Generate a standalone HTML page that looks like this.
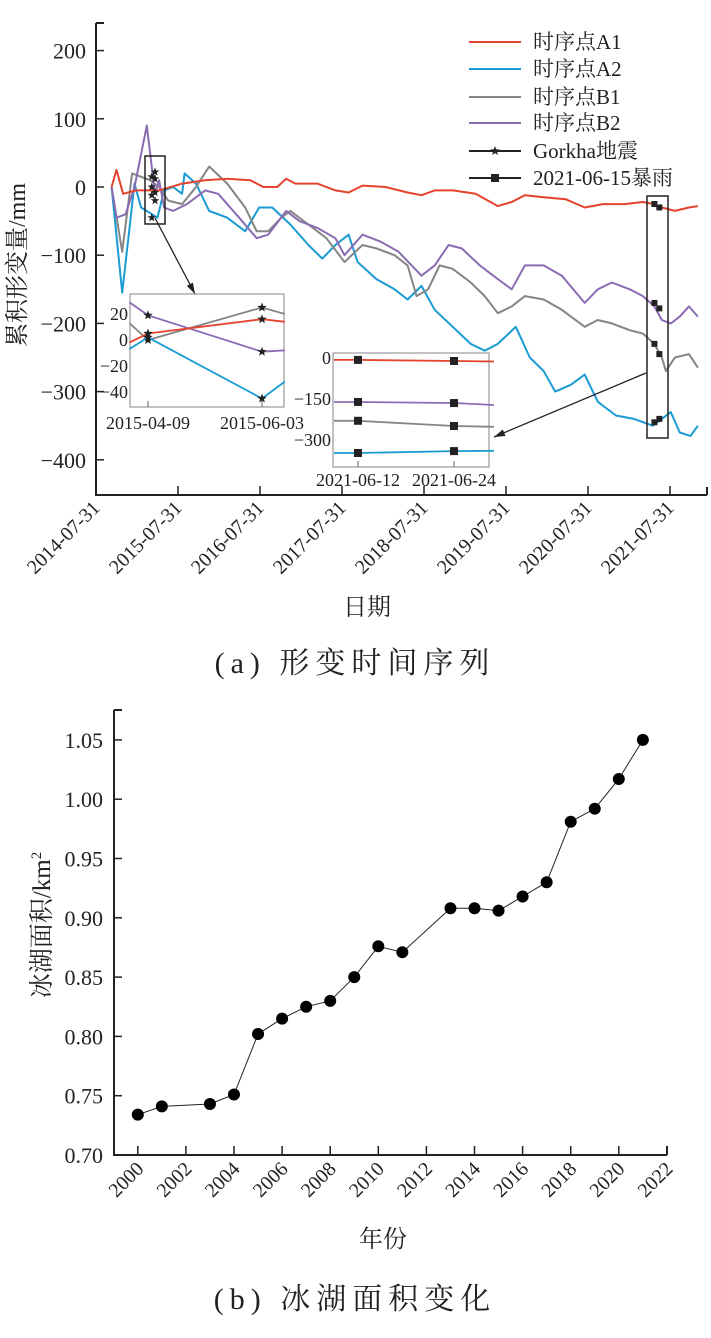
<!DOCTYPE html>
<html><head><meta charset="utf-8"><style>
html,body{margin:0;padding:0;background:#fff;}
svg{display:block;}
text{font-family:"Liberation Serif","Noto Serif CJK SC",serif;fill:#222;}
.cjk{font-family:"Liberation Serif","Noto Serif CJK SC",serif;}
</style></head><body>
<svg id="fig" width="711" height="1338" viewBox="0 0 711 1338" xmlns="http://www.w3.org/2000/svg">
<g id="topchart"></g>
<g id="botchart"></g>
<text x="355" y="673" font-size="30" letter-spacing="6" text-anchor="middle" class="cjk">(a) 形变时间序列</text>
<text x="355" y="1309" font-size="30" letter-spacing="6" text-anchor="middle" class="cjk">(b) 冰湖面积变化</text>
</svg>
<script>
// ---------- Top chart data ----------
const xTickLabels = ["2014-07-31","2015-07-31","2016-07-31","2017-07-31","2018-07-31","2019-07-31","2020-07-31","2021-07-31"];
const xTickYears = [2014.58,2015.58,2016.58,2017.58,2018.58,2019.58,2020.58,2021.58];
const yTicks = [200,100,0,-100,-200,-300,-400];
const a1Years = [2014.77,2014.83,2014.91,2015.07,2015.35,2015.63,2015.91,2016.18,2016.46,2016.62,2016.79,2016.90,2017.01,2017.28,2017.50,2017.66,2017.83,2018.11,2018.38,2018.55,2018.71,2018.93,2019.21,2019.48,2019.65,2019.81,2020.04,2020.31,2020.54,2020.76,2021.03,2021.25,2021.39,2021.48,2021.64,2021.81,2021.92];
const a1Vals = [0,25,-10,-5,-5,5,10,12,10,0,0,12,5,5,-5,-8,2,0,-8,-12,-5,-5,-10,-28,-22,-12,-15,-18,-30,-25,-25,-22,-25,-30,-35,-30,-28];
const a2Years = [2014.77,2014.90,2015.05,2015.13,2015.33,2015.41,2015.52,2015.63,2015.66,2015.80,2015.96,2016.18,2016.40,2016.57,2016.73,2016.95,2017.17,2017.34,2017.50,2017.66,2017.77,2018.00,2018.22,2018.38,2018.55,2018.71,2018.93,2019.15,2019.32,2019.48,2019.70,2019.87,2020.04,2020.18,2020.37,2020.54,2020.70,2020.92,2021.14,2021.37,2021.48,2021.59,2021.70,2021.83,2021.92];
const a2Vals = [0,-155,5,-30,-45,-5,0,-10,20,5,-35,-45,-65,-30,-30,-55,-85,-105,-85,-70,-110,-135,-150,-165,-145,-180,-205,-230,-240,-230,-205,-250,-270,-300,-290,-275,-315,-335,-340,-350,-340,-330,-360,-365,-350];
const b1Years = [2014.77,2014.90,2015.02,2015.13,2015.24,2015.35,2015.46,2015.63,2015.80,2015.96,2016.18,2016.40,2016.54,2016.68,2016.84,2016.95,2017.17,2017.39,2017.61,2017.83,2018.00,2018.22,2018.38,2018.49,2018.63,2018.77,2018.93,2019.15,2019.32,2019.48,2019.65,2019.81,2020.04,2020.26,2020.54,2020.70,2020.87,2021.09,2021.25,2021.39,2021.48,2021.53,2021.64,2021.81,2021.92];
const b1Vals = [0,-95,20,15,10,0,-20,-25,0,30,5,-30,-65,-65,-45,-35,-55,-75,-110,-85,-90,-100,-115,-160,-150,-115,-120,-140,-160,-185,-175,-160,-165,-180,-205,-195,-200,-210,-215,-230,-250,-270,-250,-245,-265];
const b2Years = [2014.77,2014.83,2014.94,2015.05,2015.20,2015.30,2015.35,2015.41,2015.52,2015.69,2015.91,2016.07,2016.29,2016.54,2016.68,2016.90,2017.06,2017.28,2017.50,2017.61,2017.83,2018.05,2018.27,2018.55,2018.71,2018.88,2019.04,2019.26,2019.48,2019.65,2019.81,2020.04,2020.26,2020.54,2020.70,2020.87,2021.09,2021.25,2021.39,2021.48,2021.59,2021.70,2021.81,2021.92];
const b2Vals = [0,-45,-40,0,90,-10,10,-30,-35,-25,-5,-10,-40,-75,-70,-35,-50,-60,-75,-100,-70,-80,-95,-130,-115,-85,-90,-115,-135,-150,-115,-115,-130,-170,-150,-140,-150,-160,-175,-195,-200,-190,-175,-190];
const quakeYears = [2015.26,2015.30];
const quakeVals = [[15,-12,0,-45],[22,-8,12,-20]];
const rainYears = [2021.39,2021.45];
const rainVals = [[-25,-30],[-170,-178],[-230,-245],[-345,-340]];
// inset 1 (Gorkha)
const in1Days = [-9,0,55,66];
const in1Labels = ["2015-04-09","2015-06-03"];
const in1TickDays = [0,55];
const in1Ticks = [20,0,-20,-40];
const in1A1 = [-2,5,16,14];
const in1A2 = [-7,2,-45,-32];
const in1B1 = [13,0,25,20];
const in1B2 = [29,19,-9,-8];
// inset 2 (rain)
const in2Days = [9,12,24,29];
const in2Labels = ["2021-06-12","2021-06-24"];
const in2TickDays = [12,24];
const in2Ticks = [0,-150,-300];
const in2A1 = [-7,-7,-11,-13];
const in2B2 = [-161,-161,-165,-172];
const in2B1 = [-230,-230,-249,-252];
const in2A2 = [-348,-348,-341,-340];
// ---------- Bottom chart data ----------
const lakeYears = [2000,2001,2003,2004,2005,2006,2007,2008,2009,2010,2011,2013,2014,2015,2016,2017,2018,2019,2020,2021];
const lakeArea = [0.734,0.741,0.743,0.751,0.802,0.815,0.825,0.830,0.850,0.876,0.871,0.908,0.908,0.906,0.918,0.930,0.981,0.992,1.017,1.050];
const lakeYTicks = [0.70,0.75,0.80,0.85,0.90,0.95,1.00,1.05];
const lakeXTicks = [2000,2002,2004,2006,2008,2010,2012,2014,2016,2018,2020,2022];

const NS="http://www.w3.org/2000/svg";
function mk(parent,tag,attrs){const e=document.createElementNS(NS,tag);for(const k in attrs)e.setAttribute(k,attrs[k]);parent.appendChild(e);return e;}
const C={a1:"#e5432e",a2:"#1a9bd3",b1:"#858585",b2:"#8b6cb3"};
const topG=document.getElementById('topchart');
const X=y=>96+(y-2014.58)*82;
const Y=v=>187-v*0.682;
function pathD(xs,vs,fx,fy){return xs.map((x,i)=>(i?'L':'M')+fx(x).toFixed(1)+' '+fy(vs[i]).toFixed(1)).join(' ');}
function star(g,cx,cy,r){let p=[];for(let i=0;i<10;i++){const a=-Math.PI/2+i*Math.PI/5;const rr=i%2?r*0.42:r;p.push((cx+rr*Math.cos(a)).toFixed(1)+','+(cy+rr*Math.sin(a)).toFixed(1));}return mk(g,'polygon',{points:p.join(' '),fill:'#222'});}

let ax=mk(topG,'path',{d:'M96 23 L96 495 L707 495 M96 23 L104 23 M707 495 L707 487',stroke:'#222','stroke-width':2,fill:'none'});


yTicks.forEach(v=>{
  const t=mk(topG,'line',{x1:96,x2:104,y1:Y(v),y2:Y(v),stroke:'#222','stroke-width':1.5});
  
  
  const l=mk(topG,'text',{x:86,y:Y(v)+8,'font-size':22,'text-anchor':'end'});l.textContent=(v<0?'\u2212'+(-v):v);
  
  
});
xTickYears.forEach((yr,i)=>{
  const x=X(yr);
  if(i>0){const t=mk(topG,'line',{x1:x,x2:x,y1:495,y2:486,stroke:'#222','stroke-width':1.5});
  
  }
  const l=mk(topG,'text',{x:x+5,y:509,'font-size':20,'text-anchor':'end',transform:`rotate(-45 ${x+5} 509)`});l.textContent=xTickLabels[i];
  
  
});
let yt=mk(topG,'text',{x:0,y:0,'font-size':24,'text-anchor':'middle',transform:'translate(25 265) rotate(-90)',class:'cjk'});yt.textContent='累积形变量/mm';


let xt=mk(topG,'text',{x:367,y:615,'font-size':24,'text-anchor':'middle',class:'cjk'});xt.textContent='日期';



[['a2',a2Years,a2Vals],['b1',b1Years,b1Vals],['b2',b2Years,b2Vals],['a1',a1Years,a1Vals]].forEach(([k,xs,vs])=>{
  const p=mk(topG,'path',{d:pathD(xs,vs,X,Y),stroke:C[k],'stroke-width':2,fill:'none','stroke-linejoin':'round'});
  
  
});
quakeYears.forEach((yr,i)=>quakeVals[i].forEach(v=>{
  const s=star(topG,X(yr),Y(v),4.5);
  
  
}));
rainVals.forEach(vs=>vs.forEach((v,i)=>{
  const r=mk(topG,'rect',{x:X(rainYears[i])-3,y:Y(v)-3,width:6,height:6,fill:'#222'});
  
  
}));
let bx1=mk(topG,'rect',{x:145,y:156,width:20,height:68,fill:'none',stroke:'#222','stroke-width':1.5});


let bx2=mk(topG,'rect',{x:647,y:196,width:21,height:242,fill:'none',stroke:'#222','stroke-width':1.5});


function arrow(x1,y1,x2,y2,name){
  const g=mk(topG,'g',{});
  
  
  mk(g,'line',{x1,y1,x2,y2,stroke:'#222','stroke-width':1.3});
  const a=Math.atan2(y2-y1,x2-x1),L=11,w=3.5;
  const bx=x2-L*Math.cos(a),by=y2-L*Math.sin(a);
  mk(g,'polygon',{points:`${x2},${y2} ${bx+w*Math.sin(a)},${by-w*Math.cos(a)} ${bx-w*Math.sin(a)},${by+w*Math.cos(a)}`,fill:'#222'});
}
arrow(155,218,195,294,'quake-arrow');
arrow(646,373,494,437,'rain-arrow');

const legNames=['时序点A1','时序点A2','时序点B1','时序点B2','Gorkha地震','2021-06-15暴雨'];
const legCols=[C.a1,C.a2,C.b1,C.b2,'#222','#222'];
const legY=[42,69,97,123,151,178];
legNames.forEach((n,i)=>{
  const g=mk(topG,'g',{});
  
  
  mk(g,'line',{x1:469,x2:521,y1:legY[i],y2:legY[i],stroke:legCols[i],'stroke-width':2});
  if(i==4)star(g,495,legY[i],5);
  if(i==5)mk(g,'rect',{x:491,y:legY[i]-4,width:8,height:8,fill:'#222'});
  const t=mk(g,'text',{x:533,y:legY[i]+7,'font-size':21,class:'cjk'});t.textContent=n;
});

(function(){
  const g=mk(topG,'g',{});
  
  
  mk(g,'rect',{x:130,y:294,width:154,height:113,fill:'#fff',stroke:'#999','stroke-width':1.2});
  const ix=d=>148+d*(114/55), iy=v=>340-v*1.3;
  in1Ticks.forEach(v=>{const t=mk(g,'text',{x:128,y:iy(v)+6,'font-size':18,'text-anchor':'end'});t.textContent=v<0?'\u2212'+(-v):v;});
  in1TickDays.forEach((d,i)=>{mk(g,'line',{x1:ix(d),x2:ix(d),y1:407,y2:401,stroke:'#666'});const t=mk(g,'text',{x:ix(d),y:429,'font-size':18,'text-anchor':'middle'});t.textContent=in1Labels[i];});
  [['b2',in1B2],['b1',in1B1],['a1',in1A1],['a2',in1A2]].forEach(([k,vs])=>{
    mk(g,'path',{d:pathD(in1Days,vs,ix,iy),stroke:C[k],'stroke-width':1.8,fill:'none'});
    [1,2].forEach(i=>star(g,ix(in1Days[i]),iy(vs[i]),5));
  });
})();
(function(){
  const g=mk(topG,'g',{});
  
  
  mk(g,'rect',{x:333,y:353,width:156,height:114,fill:'#fff',stroke:'#999','stroke-width':1.2});
  const ix=d=>358+(d-12)*8, iy=v=>358-v*0.273;
  in2Ticks.forEach(v=>{const t=mk(g,'text',{x:331,y:iy(v)+6,'font-size':18,'text-anchor':'end'});t.textContent=v<0?'\u2212'+(-v):v;});
  in2TickDays.forEach((d,i)=>{mk(g,'line',{x1:ix(d),x2:ix(d),y1:467,y2:461,stroke:'#666'});const t=mk(g,'text',{x:ix(d),y:486,'font-size':18,'text-anchor':'middle'});t.textContent=in2Labels[i];});
  [['a1',in2A1],['b2',in2B2],['b1',in2B1],['a2',in2A2]].forEach(([k,vs])=>{
    mk(g,'path',{d:pathD(in2Days,vs,ix,iy),stroke:C[k],'stroke-width':1.8,fill:'none'});
    [1,2].forEach(i=>mk(g,'rect',{x:ix(in2Days[i])-4,y:iy(vs[i])-4,width:8,height:8,fill:'#222'}));
  });
})();

const botG=document.getElementById('botchart');
const BX=y=>137.8+(y-2000)*24.05;
const BY=v=>1155-(v-0.70)*1186;
let bax=mk(botG,'path',{d:'M114 710 L114 1155 L667 1155 M114 710 L122 710 M667 1155 L667 1146',stroke:'#222','stroke-width':2,fill:'none'});


lakeYTicks.forEach(v=>{
  const t=mk(botG,'line',{x1:114,x2:122,y1:BY(v),y2:BY(v),stroke:'#222','stroke-width':1.5});
  
  
  const l=mk(botG,'text',{x:103,y:BY(v)+8,'font-size':22,'text-anchor':'end'});l.textContent=v.toFixed(2);
  
  
});
lakeXTicks.forEach(yr=>{
  const x=BX(yr);
  const t=mk(botG,'line',{x1:x,x2:x,y1:1155,y2:1146,stroke:'#222','stroke-width':1.5});
  
  
  const l=mk(botG,'text',{x:x+7,y:1170,'font-size':20,'text-anchor':'end',transform:`rotate(-45 ${x+7} 1170)`});l.textContent=yr;
  
  
});
let byt=mk(botG,'text',{x:0,y:0,'font-size':25,'text-anchor':'middle',transform:'translate(50 925) rotate(-90)',class:'cjk'});byt.innerHTML='冰湖面积/km<tspan font-size="15" dy="-9">2</tspan>';


let bxt=mk(botG,'text',{x:383,y:1247,'font-size':24,'text-anchor':'middle',class:'cjk'});bxt.textContent='年份';


let bl=mk(botG,'path',{d:pathD(lakeYears,lakeArea,BX,BY),stroke:'#222','stroke-width':1,fill:'none'});


lakeYears.forEach((yr,i)=>{
  const c=mk(botG,'circle',{cx:BX(yr),cy:BY(lakeArea[i]),r:6,fill:'#000'});
  
  
});
</script>
</body></html>
